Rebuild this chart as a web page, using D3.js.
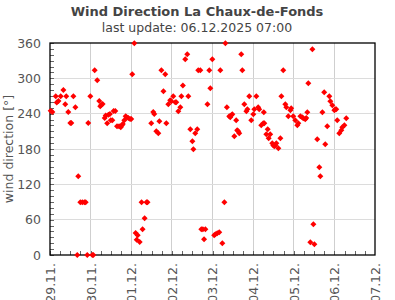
<!DOCTYPE html>
<html><head><meta charset="utf-8">
<script src="https://cdn.jsdelivr.net/npm/d3@7"></script>
<style>body{margin:0;background:#fff}svg{display:block}text{font-family:"DejaVu Sans",sans-serif}</style>
</head><body><svg id="c" width="395" height="300"></svg>
<script>
const title = "Wind Direction La Chaux-de-Fonds";
const subtitle = "last update: 06.12.2025 07:00";
const yLabel = "wind direction [°]";
const startDate = Date.UTC(2025, 10, 29);
const endDate = Date.UTC(2025, 11, 7);
const yTicks = [0, 60, 120, 180, 240, 300, 360];
// hours since 29.11.2025 00:00
const hours = [0.4,1.4,3.4,4,5,6.3,7.9,9,9.6,10.8,12,12.6,13.8,15,16.1,16.7,17.9,19.1,20.3,21.1,22,22.6,23.8,25,25.6,26.4,27.9,29.1,29.7,30.3,31.1,32.3,32.9,33.8,34.5,35.4,35.9,36.8,37.6,38.6,39.6,40.8,41.8,42.4,43,43.9,44.7,45.3,46.3,47.3,48,48.6,49.8,50.6,51.2,51.8,53,54.1,54.7,55.9,57,57.6,59.8,61,61.6,62.8,64,64.6,65.8,67,68.1,68.7,69.9,71,71.7,72.8,74,74.6,75.8,77,77.6,78.5,79.9,81.1,81.7,82.9,84.1,84.7,85.8,87,87.6,88.8,89.4,90.3,91,91.8,93,94.1,94.7,95.9,97,97.7,98.8,100,100.6,101.8,103,103.6,104.5,105.9,106.5,107.1,107.7,108.9,110,110.6,111.2,111.8,113,113.6,114.8,116,116.6,117.7,118.9,120.1,120.7,121.9,123,123.6,124.8,126,126.3,126.6,127.8,128.6,129.2,130.1,131.3,131.9,132.5,133.1,133.7,134.9,136.1,136.7,137.8,139,139.6,140.8,142,142.5,143.7,144.9,146.1,146.7,147.9,149,149.6,150.8,151.4,152,152.6,153.8,155,155.6,156.2,157.9,159.1,159.7,160.9,162,162.6,163.8,165,165.6,166.8,168,168.5,169.1,169.7,170.9,172.1,172.7,173.9,175];
const directions = [245,243,269.5,259,261.5,269.5,280,256,269.5,243,224,224,269.5,251,0,133.6,89.5,89.5,89.5,89.5,0,224,269.5,0,0,313.6,296.6,261.5,252.5,254.7,256.4,232.6,237,223.6,238,239.4,229,229,244.5,244.5,218.5,218.5,217,220,222.4,228.7,235.5,233.8,232.6,231,231,306.8,359.5,37.4,26,33.4,22,89.5,43.6,62.3,89.5,89.5,223.6,242.8,239.4,210,206.7,227,313.6,278,306.8,223.6,256,262.7,261,269.5,259.3,259.3,244,250.8,269.5,288,332.3,340.8,269.5,213.5,193,179.5,206.7,213.5,313.6,313.6,43.6,43.6,26.6,43.6,256,313.6,283,332.3,33.4,35.1,36.8,38.5,313.6,19.8,89.5,359.5,250.8,235.5,233.8,237.2,238.9,201.6,228.7,211.7,210,206.7,340.8,313.6,256,244,247.4,269.5,228.7,238.9,247.4,269.5,250.8,247.4,220.2,223.6,242.3,223.6,205,213.5,198.2,205,189.7,186.3,184.6,186.3,189.7,181.2,198.2,269.5,313.6,256,250.8,235.5,245.7,249.1,235.5,228.7,220.2,223.6,235.5,233.8,232.1,230.4,232.6,242.3,291.6,21.6,349.3,52.1,18.2,196.5,149,133.6,242.3,276.3,188,218.5,269.5,261,254.2,245.7,247.4,247.4,228.7,206.7,211.7,216.8,220.2,232.1];

const W = 395, H = 300;
const m = {left: 50, right: 375, top: 43, bottom: 255};
const svg = d3.select("#c");
svg.append("rect").attr("width", W).attr("height", H).attr("fill", "#fff");

const x = d3.scaleUtc().domain([new Date(startDate), new Date(endDate)]).range([m.left, m.right]);
const y = d3.scaleLinear().domain([0, 360]).range([m.bottom, m.top]);
const pw = m.right - m.left, ph = m.bottom - m.top;

const days = d3.utcDay.range(new Date(startDate), new Date(endDate + 1));

// grid
const grid = svg.append("g");
grid.selectAll("line.v").data(days.slice(1, -1)).join("line")
  .attr("x1", d => x(d)).attr("x2", d => x(d)).attr("y1", m.top).attr("y2", m.bottom)
  .attr("stroke", "#cfcfcf").attr("stroke-width", 1).attr("shape-rendering", "crispEdges");
grid.selectAll("line.h").data(yTicks.slice(1, -1)).join("line")
  .attr("x1", m.left).attr("x2", m.right).attr("y1", d => y(d)).attr("y2", d => y(d))
  .attr("stroke", "#dcdcdc").attr("stroke-width", 1).attr("shape-rendering", "crispEdges");

// minor ticks
const minorX = d3.utcHour.every(6).range(new Date(startDate), new Date(endDate));
svg.append("g").attr("transform", `translate(0,${m.bottom})`)
  .call(d3.axisBottom(x).tickValues(minorX).tickSize(-4).tickFormat(""))
  .call(g => g.select(".domain").remove())
  .call(g => g.selectAll("line").attr("stroke", "#666").attr("shape-rendering", "crispEdges"));
svg.append("g").attr("transform", `translate(${m.left},0)`)
  .call(d3.axisLeft(y).tickValues(d3.range(0, 361, 10)).tickSize(-4).tickFormat(""))
  .call(g => g.select(".domain").remove())
  .call(g => g.selectAll("line").attr("stroke", "#666").attr("shape-rendering", "crispEdges"));

// y axis labels
svg.append("g").attr("transform", `translate(${m.left},0)`)
  .call(d3.axisLeft(y).tickValues(yTicks).tickSize(0).tickPadding(9).tickFormat(d3.format("d")))
  .call(g => g.select(".domain").remove())
  .call(g => g.selectAll("text").attr("font-size", 12.5).attr("fill", "#555").attr("font-family", "DejaVu Sans"));

// x axis labels
svg.append("g").attr("transform", `translate(0,${m.bottom})`)
  .call(d3.axisBottom(x).tickValues(days).tickSize(0).tickFormat(d3.utcFormat("%d.%m.")))
  .call(g => g.select(".domain").remove())
  .call(g => g.selectAll("text").attr("font-size", 12.5).attr("fill", "#555").attr("font-family", "DejaVu Sans")
    .attr("transform", "rotate(-90)").attr("text-anchor", "end").attr("x", -8).attr("y", 0).attr("dy", "0.35em"));

// frame
svg.append("rect").attr("x", m.left).attr("y", m.top).attr("width", pw).attr("height", ph)
  .attr("fill", "none").attr("stroke", "#000").attr("stroke-width", 1.3);

// points
svg.append("g").selectAll("path").data(hours).join("path")
  .attr("transform", (h, i) => `translate(${x(new Date(startDate + h * 3600000))},${y(directions[i])}) rotate(45)`)
  .attr("d", d3.symbol(d3.symbolSquare, 18))
  .attr("fill", "#ff0000");

// titles
svg.append("text").attr("x", 197).attr("y", 16).attr("text-anchor", "middle")
  .attr("font-size", 13).attr("font-weight", "bold").attr("fill", "#444").text(title);
svg.append("text").attr("x", 197).attr("y", 32).attr("text-anchor", "middle")
  .attr("font-size", 12.5).attr("fill", "#444").text(subtitle);
svg.append("text").attr("transform", `translate(13,${(m.top + m.bottom) / 2}) rotate(-90)`)
  .attr("text-anchor", "middle").attr("font-size", 12.5).attr("fill", "#555").text(yLabel);
</script></body></html>
